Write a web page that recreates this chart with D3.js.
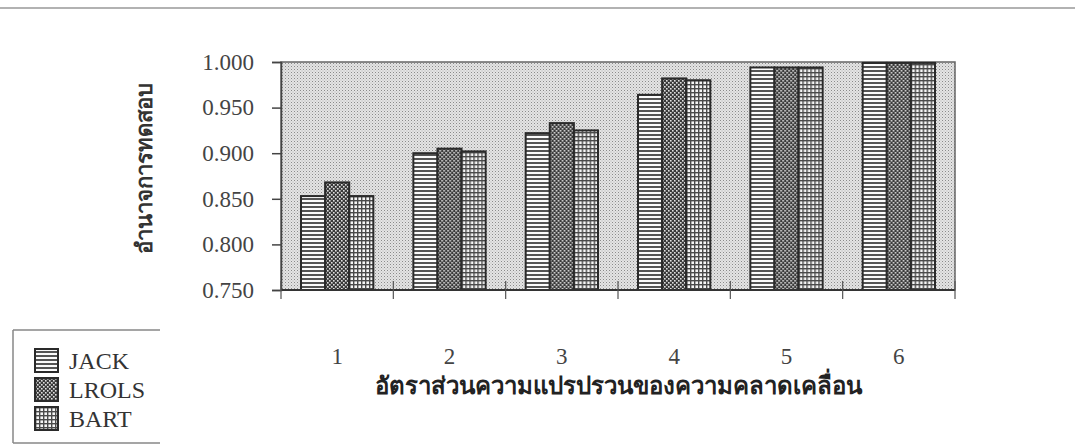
<!DOCTYPE html>
<html>
<head>
<meta charset="utf-8">
<script src="https://cdn.jsdelivr.net/npm/d3@7"></script>
<style>
  body { margin: 0; background: #fff; }
  svg { display: block; }
</style>
</head>
<body>
<div id="chart"></div>
<script>
// data
var groups = ["1", "2", "3", "4", "5", "6"]
var seriesNames = ["JACK", "LROLS", "BART"]
var jack  = [0.853, 0.900, 0.922, 0.964, 0.994, 0.999]
var lrols = [0.868, 0.905, 0.933, 0.982, 0.994, 0.999]
var bart  = [0.853, 0.902, 0.925, 0.980, 0.994, 0.999]
var yTicks = [0.750, 0.800, 0.850, 0.900, 0.950, 1.000]
var yTitle = "อำนาจการทดสอบ"
var xTitle = "อัตราส่วนความแปรปรวนของความคลาดเคลื่อน"

var W = 1075, H = 447
// plot box (note: "top" is taken by window.top, so use other names)
var plotL = 281, plotR = 955, plotT = 62, plotB = 290

var svg = d3.select("#chart").append("svg")
    .attr("width", W)
    .attr("height", H)

var defs = svg.append("defs")

// stipple for plot background
var bg = defs.append("pattern").attr("id", "pBg")
    .attr("width", 3).attr("height", 3).attr("patternUnits", "userSpaceOnUse")
bg.append("rect").attr("width", 3).attr("height", 3).attr("fill", "#e4e4e4")
bg.append("rect").attr("width", 1).attr("height", 1).attr("fill", "#8a8a8a")
bg.append("rect").attr("x", 1.5).attr("y", 1.5).attr("width", 1).attr("height", 1).attr("fill", "#b0b0b0")

// horizontal lines (JACK)
var pj = defs.append("pattern").attr("id", "pJACK")
    .attr("width", 4).attr("height", 4).attr("patternUnits", "userSpaceOnUse")
pj.append("rect").attr("width", 4).attr("height", 4).attr("fill", "#fbfbfb")
pj.append("rect").attr("y", 2).attr("width", 4).attr("height", 2).attr("fill", "#555")

// checker (LROLS)
var pl = defs.append("pattern").attr("id", "pLROLS")
    .attr("width", 4).attr("height", 4).attr("patternUnits", "userSpaceOnUse")
pl.append("rect").attr("width", 4).attr("height", 4).attr("fill", "#3a3a3a")
pl.append("rect").attr("width", 1.6).attr("height", 1.6).attr("fill", "#e0e0e0")
pl.append("rect").attr("x", 2).attr("y", 2).attr("width", 1.6).attr("height", 1.6).attr("fill", "#e0e0e0")

// grid (BART)
var pb = defs.append("pattern").attr("id", "pBART")
    .attr("width", 4).attr("height", 4).attr("patternUnits", "userSpaceOnUse")
pb.append("rect").attr("width", 4).attr("height", 4).attr("fill", "#4a4a4a")
pb.append("rect").attr("x", 1.4).attr("y", 1.4).attr("width", 2.6).attr("height", 2.6).attr("fill", "#f6f6f6")

var fills = ["url(#pJACK)", "url(#pLROLS)", "url(#pBART)"]
var serif = "'Liberation Serif', 'Times New Roman', serif"
var thai = "'Liberation Serif', 'Noto Sans', 'DejaVu Sans', sans-serif"

// page frame line from the scan
svg.append("line").attr("x1", 0).attr("x2", W).attr("y1", 8).attr("y2", 8)
    .attr("stroke", "#999").attr("stroke-width", 1.5)

var x0 = d3.scaleBand().domain(groups).range([plotL, plotR])
var x1 = d3.scaleBand().domain(seriesNames)
    .range([0, x0.bandwidth()]).paddingInner(0).paddingOuter(0.83)
var y = d3.scaleLinear().domain([0.75, 1.0]).range([plotB, plotT])

// plot area
svg.append("rect")
    .attr("x", plotL).attr("y", plotT)
    .attr("width", plotR - plotL).attr("height", plotB - plotT)
    .attr("fill", "url(#pBg)")
    .attr("stroke", "#666").attr("stroke-width", 1.5)

var rows = groups.map(function (g, i) {
    return { g: g, vals: [jack[i], lrols[i], bart[i]] }
})

var gGroups = svg.selectAll("g.grp")
    .data(rows)
    .enter()
    .append("g")
    .attr("class", "grp")
    .attr("transform", function (d) { return "translate(" + x0(d.g) + ",0)" })

gGroups.selectAll("rect")
    .data(function (d) { return d.vals.map(function (v, k) { return { k: k, v: v } }) })
    .enter()
    .append("rect")
    .attr("x", function (d) { return x1(seriesNames[d.k]) })
    .attr("width", x1.bandwidth())
    .attr("y", function (d) { return y(d.v) })
    .attr("height", function (d) { return plotB - y(d.v) })
    .attr("fill", function (d) { return fills[d.k] })
    .attr("stroke", "#2a2a2a")
    .attr("stroke-width", 2)

// y axis
var yAxis = d3.axisLeft(y).tickValues(yTicks).tickFormat(d3.format(".3f"))
    .tickSize(9).tickPadding(18)
var ya = svg.append("g").attr("transform", "translate(" + plotL + ",0)").call(yAxis)
ya.select(".domain").attr("stroke", "#444").attr("stroke-width", 1.5)
ya.selectAll(".tick line").attr("stroke", "#444").attr("stroke-width", 1.5)
ya.selectAll("text").attr("font-family", serif).attr("font-size", "23px").attr("fill", "#444")

// x axis: ticks at band edges, labels at centres
var xa = svg.append("g").attr("transform", "translate(0," + plotB + ")")
xa.append("line").attr("x1", plotL).attr("x2", plotR)
    .attr("stroke", "#333").attr("stroke-width", 2)
var edges = groups.map(function (g) { return x0(g) }).concat([plotR])
xa.selectAll("line.tk")
    .data(edges)
    .enter()
    .append("line")
    .attr("class", "tk")
    .attr("x1", function (d) { return d }).attr("x2", function (d) { return d })
    .attr("y1", -9).attr("y2", 9)
    .attr("stroke", "#555").attr("stroke-width", 1.2)
xa.selectAll("text")
    .data(groups)
    .enter()
    .append("text")
    .attr("x", function (d) { return x0(d) + x0.bandwidth() / 2 })
    .attr("y", 74)
    .attr("text-anchor", "middle")
    .attr("font-family", serif).attr("font-size", "23px").attr("fill", "#444")
    .text(function (d) { return d })

// axis titles
svg.append("text")
    .attr("x", (plotL + plotR) / 2)
    .attr("y", 394)
    .attr("text-anchor", "middle")
    .attr("font-family", thai).attr("font-size", "24px").attr("font-weight", "bold")
    .attr("fill", "#222")
    .text(xTitle)

svg.append("text")
    .attr("transform", "translate(152,168) rotate(-90)")
    .attr("text-anchor", "middle")
    .attr("font-family", thai).attr("font-size", "22px").attr("font-weight", "bold")
    .attr("fill", "#333")
    .text(yTitle)

// legend
var lg = svg.append("g")
lg.append("path")
    .attr("d", "M13,330 L160,330 M13,330 L13,443 M13,443 L160,443")
    .attr("fill", "none").attr("stroke", "#888").attr("stroke-width", 1.5)

var items = lg.selectAll("g.item")
    .data(seriesNames)
    .enter()
    .append("g")
    .attr("class", "item")
    .attr("transform", function (d, i) { return "translate(35," + (349 + i * 29) + ")" })
items.append("rect")
    .attr("width", 23).attr("height", 23)
    .attr("fill", function (d, i) { return fills[i] })
    .attr("stroke", "#2a2a2a").attr("stroke-width", 2)
items.append("text")
    .attr("x", 34).attr("y", 20)
    .attr("font-family", serif).attr("font-size", "24px").attr("fill", "#333")
    .text(function (d) { return d })
</script>
</body>
</html>
